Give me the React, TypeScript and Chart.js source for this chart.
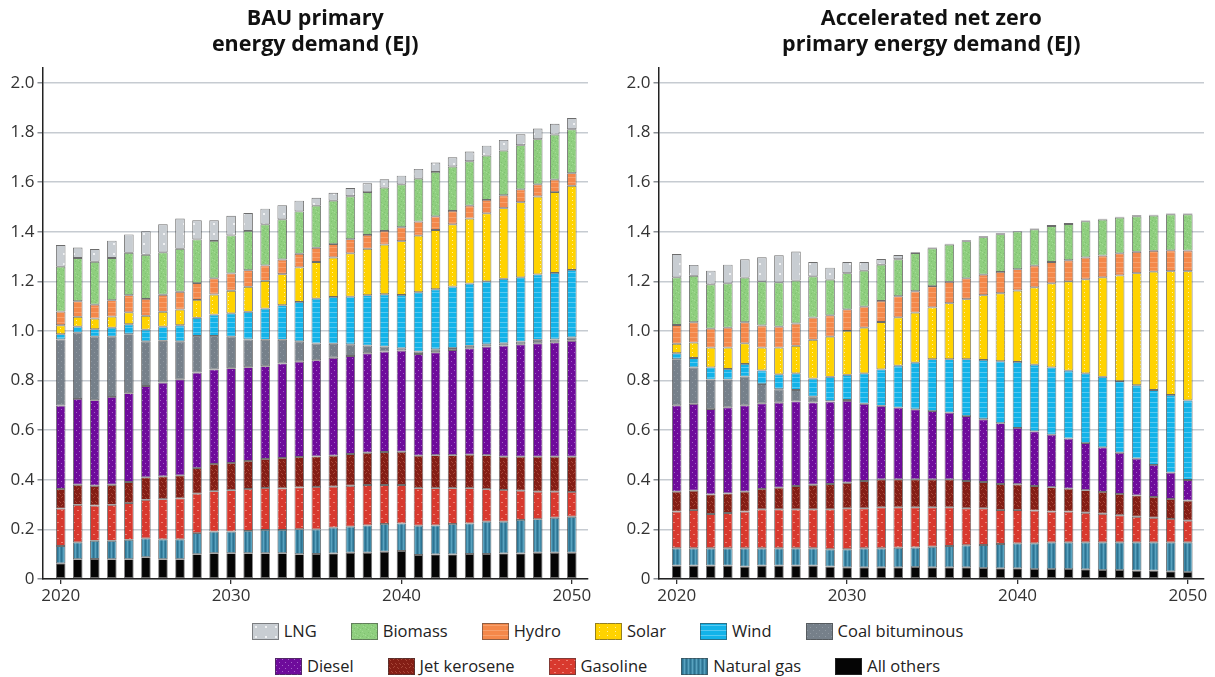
import React, { useEffect, useRef } from 'react';
import { Chart, registerables } from 'chart.js';

Chart.register(...registerables);

const FONT = '"Open Sans", "DejaVu Sans", sans-serif';

const years = [2020, 2021, 2022, 2023, 2024, 2025, 2026, 2027, 2028, 2029, 2030, 2031, 2032, 2033, 2034, 2035, 2036, 2037, 2038, 2039, 2040, 2041, 2042, 2043, 2044, 2045, 2046, 2047, 2048, 2049, 2050];
const xTickYears = [2020, 2030, 2040, 2050];
const yTickValues = [0, 0.2, 0.4, 0.6, 0.8, 1.0, 1.2, 1.4, 1.6, 1.8, 2.0];

// Stack order, bottom to top
const seriesNames = ['All others', 'Natural gas', 'Gasoline', 'Jet kerosene', 'Diesel', 'Coal bituminous', 'Wind', 'Solar', 'Hydro', 'Biomass', 'LNG'];
const legendRow1 = ['LNG', 'Biomass', 'Hydro', 'Solar', 'Wind', 'Coal bituminous'];
const legendRow2 = ['Diesel', 'Jet kerosene', 'Gasoline', 'Natural gas', 'All others'];

const bauTitle = ['BAU primary', 'energy demand (EJ)'];
const anzTitle = ['Accelerated net zero', 'primary energy demand (EJ)'];

// BAU primary energy demand (EJ)
const bauAllOthers = [0.063, 0.080, 0.081, 0.080, 0.080, 0.088, 0.080, 0.080, 0.100, 0.104, 0.104, 0.104, 0.104, 0.104, 0.100, 0.101, 0.103, 0.106, 0.106, 0.110, 0.113, 0.097, 0.099, 0.099, 0.101, 0.101, 0.103, 0.103, 0.106, 0.106, 0.106];
const bauNaturalGas = [0.070, 0.068, 0.073, 0.074, 0.078, 0.076, 0.080, 0.080, 0.085, 0.087, 0.087, 0.090, 0.094, 0.094, 0.101, 0.099, 0.104, 0.105, 0.110, 0.112, 0.111, 0.118, 0.117, 0.123, 0.123, 0.130, 0.128, 0.135, 0.135, 0.141, 0.145];
const bauGasoline = [0.151, 0.151, 0.142, 0.145, 0.148, 0.155, 0.162, 0.165, 0.159, 0.163, 0.167, 0.169, 0.169, 0.167, 0.168, 0.171, 0.165, 0.165, 0.163, 0.157, 0.155, 0.151, 0.150, 0.144, 0.142, 0.131, 0.128, 0.118, 0.111, 0.105, 0.100];
const bauJetKerosene = [0.079, 0.081, 0.080, 0.081, 0.085, 0.091, 0.092, 0.093, 0.103, 0.110, 0.110, 0.113, 0.117, 0.123, 0.123, 0.123, 0.125, 0.128, 0.130, 0.133, 0.134, 0.131, 0.133, 0.133, 0.135, 0.137, 0.134, 0.137, 0.141, 0.141, 0.142];
const bauDiesel = [0.336, 0.346, 0.345, 0.354, 0.358, 0.368, 0.378, 0.387, 0.385, 0.381, 0.382, 0.378, 0.374, 0.381, 0.384, 0.388, 0.395, 0.395, 0.401, 0.405, 0.408, 0.410, 0.415, 0.424, 0.429, 0.438, 0.448, 0.453, 0.457, 0.461, 0.467];
const bauCoal = [0.267, 0.267, 0.256, 0.243, 0.238, 0.180, 0.168, 0.153, 0.148, 0.135, 0.127, 0.112, 0.106, 0.095, 0.082, 0.067, 0.056, 0.047, 0.031, 0.020, 0.009, 0.010, 0.012, 0.008, 0.010, 0.009, 0.009, 0.011, 0.014, 0.012, 0.014];
const bauWind = [0.021, 0.024, 0.030, 0.036, 0.040, 0.047, 0.057, 0.065, 0.073, 0.086, 0.094, 0.111, 0.126, 0.140, 0.159, 0.181, 0.189, 0.192, 0.203, 0.211, 0.215, 0.239, 0.242, 0.248, 0.251, 0.254, 0.260, 0.259, 0.264, 0.268, 0.272];
const bauSolar = [0.036, 0.040, 0.043, 0.045, 0.048, 0.056, 0.060, 0.063, 0.072, 0.081, 0.091, 0.101, 0.112, 0.125, 0.139, 0.148, 0.159, 0.175, 0.187, 0.200, 0.217, 0.228, 0.239, 0.251, 0.262, 0.274, 0.285, 0.303, 0.314, 0.326, 0.339];
const bauHydro = [0.055, 0.063, 0.056, 0.066, 0.069, 0.068, 0.069, 0.072, 0.068, 0.065, 0.070, 0.067, 0.062, 0.059, 0.055, 0.057, 0.054, 0.057, 0.056, 0.055, 0.056, 0.057, 0.055, 0.054, 0.052, 0.054, 0.052, 0.052, 0.049, 0.050, 0.051];
const bauBiomass = [0.181, 0.174, 0.173, 0.170, 0.171, 0.178, 0.171, 0.173, 0.176, 0.151, 0.153, 0.158, 0.166, 0.162, 0.171, 0.170, 0.175, 0.173, 0.173, 0.175, 0.173, 0.173, 0.179, 0.179, 0.179, 0.179, 0.180, 0.178, 0.182, 0.182, 0.177];
const bauLng = [0.087, 0.042, 0.051, 0.070, 0.074, 0.095, 0.113, 0.122, 0.077, 0.083, 0.079, 0.072, 0.063, 0.057, 0.043, 0.032, 0.032, 0.033, 0.035, 0.034, 0.035, 0.039, 0.038, 0.037, 0.039, 0.040, 0.043, 0.044, 0.043, 0.043, 0.045];

// Accelerated net zero primary energy demand (EJ)
const anzAllOthers = [0.054, 0.054, 0.054, 0.054, 0.050, 0.054, 0.054, 0.054, 0.054, 0.050, 0.047, 0.047, 0.047, 0.047, 0.048, 0.047, 0.047, 0.047, 0.044, 0.043, 0.043, 0.040, 0.040, 0.040, 0.039, 0.036, 0.036, 0.034, 0.034, 0.031, 0.028];
const anzNaturalGas = [0.070, 0.070, 0.070, 0.070, 0.074, 0.070, 0.070, 0.070, 0.070, 0.070, 0.073, 0.077, 0.077, 0.079, 0.079, 0.083, 0.086, 0.089, 0.093, 0.098, 0.101, 0.104, 0.108, 0.108, 0.109, 0.112, 0.112, 0.114, 0.114, 0.117, 0.120];
const anzGasoline = [0.148, 0.154, 0.138, 0.142, 0.148, 0.157, 0.157, 0.157, 0.157, 0.161, 0.165, 0.161, 0.165, 0.163, 0.162, 0.159, 0.156, 0.149, 0.148, 0.137, 0.134, 0.132, 0.124, 0.124, 0.119, 0.115, 0.109, 0.103, 0.099, 0.094, 0.087];
const anzJetKerosene = [0.080, 0.078, 0.079, 0.079, 0.080, 0.082, 0.087, 0.094, 0.099, 0.102, 0.103, 0.110, 0.113, 0.113, 0.113, 0.113, 0.113, 0.110, 0.106, 0.105, 0.104, 0.099, 0.098, 0.092, 0.091, 0.088, 0.086, 0.086, 0.084, 0.081, 0.081];
const anzDiesel = [0.348, 0.350, 0.344, 0.347, 0.348, 0.345, 0.343, 0.341, 0.332, 0.332, 0.330, 0.311, 0.296, 0.289, 0.282, 0.275, 0.269, 0.262, 0.253, 0.245, 0.227, 0.220, 0.212, 0.202, 0.190, 0.180, 0.166, 0.148, 0.129, 0.106, 0.083];
const anzCoal = [0.186, 0.147, 0.119, 0.112, 0.116, 0.078, 0.054, 0.046, 0.023, 0.002, 0.004, 0, 0, 0, 0, 0, 0, 0, 0, 0, 0, 0, 0, 0, 0, 0, 0, 0, 0, 0, 0];
const anzWind = [0.024, 0.038, 0.049, 0.043, 0.051, 0.055, 0.060, 0.067, 0.073, 0.098, 0.101, 0.123, 0.147, 0.169, 0.188, 0.209, 0.215, 0.229, 0.239, 0.250, 0.266, 0.269, 0.271, 0.274, 0.281, 0.284, 0.289, 0.296, 0.302, 0.313, 0.321];
const anzSolar = [0.038, 0.062, 0.080, 0.086, 0.083, 0.092, 0.108, 0.111, 0.156, 0.162, 0.177, 0.184, 0.191, 0.195, 0.202, 0.209, 0.226, 0.242, 0.261, 0.274, 0.288, 0.312, 0.339, 0.360, 0.379, 0.401, 0.426, 0.452, 0.477, 0.499, 0.521];
const anzHydro = [0.076, 0.082, 0.076, 0.080, 0.085, 0.089, 0.084, 0.090, 0.090, 0.086, 0.087, 0.085, 0.085, 0.085, 0.086, 0.086, 0.086, 0.084, 0.083, 0.086, 0.086, 0.087, 0.086, 0.085, 0.088, 0.088, 0.089, 0.086, 0.084, 0.084, 0.083];
const anzBiomass = [0.192, 0.187, 0.179, 0.179, 0.180, 0.178, 0.179, 0.173, 0.166, 0.144, 0.146, 0.145, 0.146, 0.149, 0.154, 0.152, 0.150, 0.150, 0.151, 0.152, 0.152, 0.147, 0.145, 0.146, 0.146, 0.145, 0.144, 0.143, 0.142, 0.145, 0.146];
const anzLng = [0.094, 0.044, 0.055, 0.075, 0.074, 0.097, 0.109, 0.117, 0.058, 0.048, 0.045, 0.035, 0.023, 0.017, 0.003, 0.003, 0.004, 0.004, 0.004, 0.004, 0.002, 0.003, 0.004, 0.004, 0.003, 0.003, 0.003, 0.004, 0.003, 0.003, 0.003];

const bauSeries = [bauAllOthers, bauNaturalGas, bauGasoline, bauJetKerosene, bauDiesel, bauCoal, bauWind, bauSolar, bauHydro, bauBiomass, bauLng];
const anzSeries = [anzAllOthers, anzNaturalGas, anzGasoline, anzJetKerosene, anzDiesel, anzCoal, anzWind, anzSolar, anzHydro, anzBiomass, anzLng];

// ---- styles (fill patterns) ----
function makeTile(name: string): HTMLCanvasElement {
  const c = document.createElement('canvas');
  const px = (g: CanvasRenderingContext2D, col: string, pts: number[][], w = 1, h = 1) => {
    g.fillStyle = col;
    pts.forEach(([a, b]) => g.fillRect(a, b, w, h));
  };
  let g: CanvasRenderingContext2D;
  const init = (w: number, h: number, base: string) => {
    c.width = w; c.height = h;
    g = c.getContext('2d')!;
    g.fillStyle = base;
    g.fillRect(0, 0, w, h);
  };
  switch (name) {
    case 'LNG':
      init(10, 10, '#c8cdd2');
      px(g!, 'rgba(255,255,255,0.7)', [[3, 3]], 2, 2);
      break;
    case 'Biomass':
      init(8, 8, '#8fcf7f');
      px(g!, '#80c171', [[1, 1], [5, 2], [3, 5], [7, 6], [0, 4]]);
      px(g!, '#a3db94', [[3, 0], [6, 4], [1, 6], [4, 3]]);
      break;
    case 'Hydro':
      init(6, 5, '#f4884a');
      px(g!, '#f7a06c', [[0, 2]], 6, 1);
      break;
    case 'Solar':
      init(8, 4, '#ffd300');
      px(g!, '#fff0a0', [[4, 0]]);
      break;
    case 'Wind':
      init(6, 5, '#13b3e9');
      px(g!, '#58c9f1', [[0, 2]], 6, 1);
      break;
    case 'Coal bituminous':
      init(6, 6, '#76808a');
      px(g!, '#8f98a1', [[1, 1], [4, 4]]);
      break;
    case 'Diesel':
      init(6, 6, '#6e0b9b');
      px(g!, '#a463c8', [[1, 1], [4, 4]]);
      break;
    case 'Jet kerosene':
      init(8, 8, '#841e15');
      px(g!, '#a84739', [[1, 1], [2, 2], [5, 1], [6, 0], [3, 5], [4, 6], [7, 5], [0, 6]]);
      break;
    case 'Gasoline':
      init(8, 8, '#d8392e');
      px(g!, '#ee8075', [[1, 2], [5, 6]], 2, 1);
      break;
    case 'Natural gas':
      init(4, 4, '#3d87a5');
      px(g!, '#2e7392', [[1, 0]], 1, 4);
      px(g!, '#5aa2bf', [[3, 0]], 1, 4);
      break;
    default:
      init(4, 4, '#050505');
  }
  return c;
}

function makePattern(ctx: CanvasRenderingContext2D, name: string): CanvasPattern | string {
  const p = ctx.createPattern(makeTile(name), 'repeat');
  return p || '#888';
}

function StackedPanel({ titleLines, series, left }: { titleLines: string[]; series: number[][]; left: number }) {
  const ref = useRef<HTMLCanvasElement>(null);
  useEffect(() => {
    const canvas = ref.current!;
    const ctx = canvas.getContext('2d')!;
    const datasets = seriesNames.map((name, k) => ({
      label: name,
      data: years.map((yr, i) => ({ x: yr, y: series[k][i] })),
      backgroundColor: makePattern(ctx, name),
      borderColor: 'rgba(45,45,45,0.7)',
      borderWidth: 0.9,
      borderSkipped: false,
      barPercentage: 0.56,
      categoryPercentage: 1,
      stack: 'total',
    }));
    const tickFont = { family: FONT, size: 17 };
    const chart = new Chart(canvas, {
      type: 'bar',
      data: { datasets } as any,
      options: {
        animation: false,
        responsive: false,
        maintainAspectRatio: false,
        layout: { padding: { left: 0, right: 12, top: 0, bottom: 0 } },
        plugins: {
          legend: { display: false },
          tooltip: { enabled: false },
          title: {
            display: true,
            text: titleLines,
            fullSize: false,
            color: '#111',
            font: { family: FONT, size: 21.5, weight: 'bold', lineHeight: 1.2 },
            padding: { top: 6, bottom: 10.4 },
          },
        },
        scales: {
          x: {
            type: 'linear',
            offset: false,
            min: 2018.93,
            max: 2050.95,
            ticks: {
              stepSize: 10,
              autoSkip: false,
              maxRotation: 0,
              includeBounds: false,
              padding: 2,
              color: '#333',
              font: tickFont,
              callback: (v: any) => String(v),
            },
            afterBuildTicks: (s: any) => {
              s.ticks = s.ticks.filter((t: any) => xTickYears.includes(t.value));
            },
            afterFit: (s: any) => { s.height = 33; },
            grid: { offset: false, drawOnChartArea: false, drawTicks: true, tickLength: 5, color: '#333', lineWidth: 1.3 },
            border: { display: true, color: '#222', width: 1.5 },
          },
          y: {
            stacked: true,
            min: 0,
            max: 2.06,
            ticks: {
              stepSize: 0.2,
              includeBounds: false,
              padding: 3,
              color: '#333',
              font: tickFont,
              callback: (v: any) => (Number(v) === 0 ? '0' : Number(v).toFixed(1)),
            },
            afterBuildTicks: (s: any) => {
              s.ticks = s.ticks.filter((t: any) => yTickValues.some((v) => Math.abs(v - t.value) < 1e-6));
            },
            afterFit: (s: any) => { s.width = 42.5; },
            grid: { color: '#c6cbd1', lineWidth: 1.5, tickLength: 5, tickColor: '#8a8f95' },
            border: { display: true, color: '#222', width: 1.5 },
          },
        },
      } as any,
    });
    return () => chart.destroy();
  }, []);
  return (
    <canvas
      ref={ref}
      width={600}
      height={612}
      style={{ position: 'absolute', left, top: 0, width: 600, height: 612 }}
    />
  );
}

function Swatch({ name }: { name: string }) {
  const ref = useRef<HTMLCanvasElement>(null);
  useEffect(() => {
    const c = ref.current!;
    const g = c.getContext('2d')!;
    g.clearRect(0, 0, c.width, c.height);
    g.fillStyle = makePattern(g, name) as any;
    g.fillRect(0, 0, c.width, c.height);
    g.strokeStyle = 'rgba(60,60,60,0.55)';
    g.lineWidth = 1;
    g.strokeRect(0.5, 0.5, c.width - 1, c.height - 1);
  }, [name]);
  return <canvas ref={ref} width={27} height={17} style={{ width: 27, height: 17, display: 'block' }} />;
}

function LegendRow({ names, top }: { names: string[]; top: number }) {
  return (
    <div
      style={{
        position: 'absolute',
        top,
        left: 0,
        width: 1215,
        height: 22,
        display: 'flex',
        justifyContent: 'center',
        alignItems: 'center',
        gap: 34,
      }}
    >
      {names.map((n) => (
        <div key={n} style={{ display: 'flex', alignItems: 'center' }}>
          <Swatch name={n} />
          <span style={{ marginLeft: 5, fontSize: 16.5, color: '#222', fontFamily: FONT, lineHeight: '22px' }}>{n}</span>
        </div>
      ))}
    </div>
  );
}

export default function App() {
  useEffect(() => {
    document.body.style.margin = '0';
  }, []);
  return (
    <div style={{ position: 'absolute', left: 0, top: 0, width: 1215, height: 677, background: '#fff', overflow: 'hidden' }}>
      <StackedPanel titleLines={bauTitle} series={bauSeries} left={0} />
      <StackedPanel titleLines={anzTitle} series={anzSeries} left={616} />
      <LegendRow names={legendRow1} top={620} />
      <LegendRow names={legendRow2} top={655} />
    </div>
  );
}
